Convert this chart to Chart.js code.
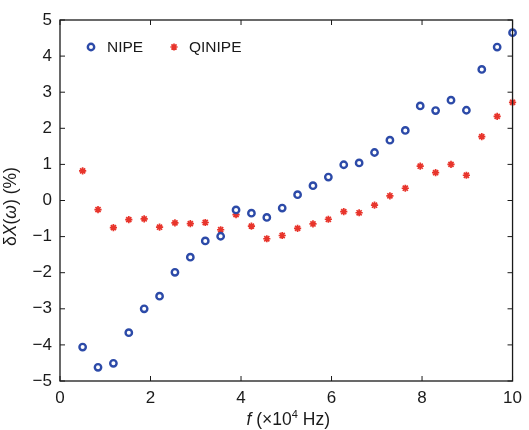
<!DOCTYPE html>
<html>
<head>
<meta charset="utf-8">
<script src="https://cdn.jsdelivr.net/npm/chart.js@4.4.1/dist/chart.umd.min.js"></script>
<style>
  html, body { margin: 0; padding: 0; background: #fff; }
  #wrap { width: 529px; height: 430px; }
</style>
</head>
<body>
<div id="wrap"><canvas id="chart"></canvas></div>
<script>
// frequency, x10^4 Hz
const freq = [0.50, 0.84, 1.18, 1.52, 1.86, 2.20, 2.54, 2.88, 3.21, 3.55,
              3.89, 4.23, 4.57, 4.91, 5.25, 5.59, 5.93, 6.27, 6.61, 6.95,
              7.29, 7.63, 7.96, 8.30, 8.64, 8.98, 9.32, 9.66, 10.0]
// relative error, %
const nipe = [-4.06, -4.62, -4.51, -3.66, -3.00, -2.65, -1.99, -1.57, -1.12, -0.99,
              -0.26, -0.35, -0.47, -0.21, 0.16, 0.41, 0.65, 0.99, 1.04, 1.33,
              1.67, 1.94, 2.62, 2.49, 2.78, 2.50, 3.63, 4.25, 4.65]
const qinipe = [0.82, -0.25, -0.75, -0.53, -0.51, -0.74, -0.62, -0.64, -0.61, -0.81,
                -0.39, -0.71, -1.06, -0.97, -0.77, -0.65, -0.52, -0.31, -0.34, -0.13,
                0.13, 0.34, 0.95, 0.77, 1.00, 0.70, 1.77, 2.33, 2.72]
const seriesNames = ['NIPE', 'QINIPE']

const FONT = '"Liberation Sans", Arial, sans-serif'
const BLUE = '#2c4aa8'
const RED = '#e8342b'
const INK = '#1a1a1a'

function toPoints(ys) {
    return freq.map((x, i) => ({ x: x, y: ys[i] }))
}

// box, inward ticks, legend and axis titles
const frame = {
    id: 'frame',
    afterDraw(chart) {
        let { ctx, chartArea: a, scales } = chart
        ctx.save()
        ctx.strokeStyle = INK
        ctx.lineWidth = 1.3
        ctx.strokeRect(a.left, a.top, a.right - a.left, a.bottom - a.top)
        ctx.lineWidth = 1
        let len = 5
        ctx.beginPath()
        for (let t of scales.x.ticks) {
            let px = scales.x.getPixelForValue(t.value)
            ctx.moveTo(px, a.bottom); ctx.lineTo(px, a.bottom - len)
            ctx.moveTo(px, a.top); ctx.lineTo(px, a.top + len)
        }
        for (let t of scales.y.ticks) {
            let py = scales.y.getPixelForValue(t.value)
            ctx.moveTo(a.left, py); ctx.lineTo(a.left + len, py)
            ctx.moveTo(a.right, py); ctx.lineTo(a.right - len, py)
        }
        ctx.stroke()

        // legend
        let ly = 47
        let items = [[91, 107], [174, 189]]
        chart.data.datasets.forEach((ds, i) => {
            ctx.strokeStyle = ds.borderColor
            ctx.fillStyle = ds.backgroundColor
            ctx.lineWidth = ds.borderWidth
            Chart.helpers.drawPoint(ctx, {
                pointStyle: ds.pointStyle, radius: ds.pointRadius, rotation: 0,
                borderWidth: ds.borderWidth
            }, items[i][0], ly)
            ctx.font = '15.5px ' + FONT
            ctx.fillStyle = INK
            ctx.textBaseline = 'middle'
            ctx.textAlign = 'left'
            ctx.fillText(ds.label, items[i][1], ly + 1)
        })

        // x title: f (×10⁴ Hz)
        let parts = [['italic ', 'f'], ['', ' (×10'], ['sup', '4'], ['', ' Hz)']]
        drawRich(ctx, parts, (a.left + a.right) / 2 + 2, 420, 17.5)

        // y title: δX(ω) (%)
        ctx.save()
        ctx.translate(11, (a.top + a.bottom) / 2 + 6)
        ctx.rotate(-Math.PI / 2)
        drawRich(ctx, [['', 'δ'], ['italic ', 'X'], ['', '('], ['italic ', 'ω'], ['', ') (%)']], 0, 0, 17.5)
        ctx.restore()
        ctx.restore()
    }
}

function drawRich(ctx, parts, cx, cy, size) {
    let fontOf = p => p[0] === 'sup' ? (Math.round(size * 0.62) + 'px ' + FONT) : (p[0] + size + 'px ' + FONT)
    let total = 0
    for (let p of parts) { ctx.font = fontOf(p); total += ctx.measureText(p[1]).width }
    let x = cx - total / 2
    ctx.fillStyle = INK
    ctx.textBaseline = 'middle'
    ctx.textAlign = 'left'
    for (let p of parts) {
        ctx.font = fontOf(p)
        ctx.fillText(p[1], x, p[0] === 'sup' ? cy - size * 0.3 : cy)
        x += ctx.measureText(p[1]).width
    }
}

new Chart(document.getElementById('chart'), {
    type: 'scatter',
    data: {
        datasets: [{
            label: seriesNames[0],
            data: toPoints(nipe),
            pointStyle: 'circle',
            pointRadius: 3.2,
            borderWidth: 2.4,
            borderColor: BLUE,
            backgroundColor: '#ffffff',
            clip: false
        }, {
            label: seriesNames[1],
            data: toPoints(qinipe),
            pointStyle: 'star',
            pointRadius: 3.6,
            borderWidth: 1.7,
            borderColor: RED,
            backgroundColor: RED,
            clip: false
        }]
    },
    options: {
        responsive: true,
        maintainAspectRatio: false,
        animation: false,
        events: [],
        layout: { padding: { left: 0, top: 20, right: 12, bottom: 0 } },
        scales: {
            x: {
                type: 'linear',
                min: 0, max: 10,
                grid: { display: false, drawTicks: false },
                border: { display: false },
                ticks: { stepSize: 2, padding: 7, color: INK, font: { family: FONT, size: 17 } },
                afterFit: s => { s.height = 49 }
            },
            y: {
                type: 'linear',
                min: -5, max: 5,
                grid: { display: false, drawTicks: false },
                border: { display: false },
                ticks: {
                    stepSize: 1, padding: 8, color: INK, font: { family: FONT, size: 17 },
                    callback: v => v < 0 ? '\u2212' + Math.abs(v) : String(v)
                },
                afterFit: s => { s.width = 60 }
            }
        },
        plugins: {
            legend: { display: false },
            tooltip: { enabled: false }
        }
    },
    plugins: [frame]
})
</script>
</body>
</html>
